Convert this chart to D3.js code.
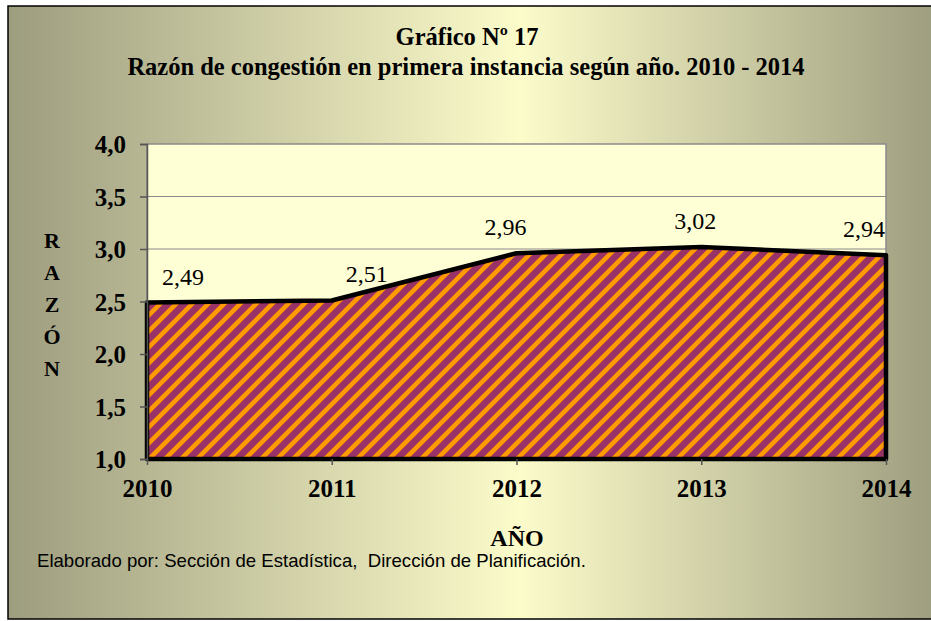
<!DOCTYPE html>
<html>
<head>
<meta charset="utf-8">
<script src="https://cdn.jsdelivr.net/npm/d3@7"></script>
<style>
  body { margin: 0; background: #fff; }
  svg { display: block; }
  .serif { font-family: "Liberation Serif", "Times New Roman", serif; }
  .sans { font-family: "Liberation Sans", Arial, sans-serif; white-space: pre; }
</style>
</head>
<body>
<div id="vis"></div>
<script>
// data
var years = ['2010', '2011', '2012', '2013', '2014'];
var ratios = [2.49, 2.51, 2.96, 3.02, 2.94];
var ratioLabels = ['2,49', '2,51', '2,96', '3,02', '2,94'];
var yTicks = [1.0, 1.5, 2.0, 2.5, 3.0, 3.5, 4.0];

var width = 931;
var height = 621;
var plot = { left: 147, right: 886, top: 144, bottom: 459 };

var svg = d3.select('#vis').append('svg')
    .attr('width', width)
    .attr('height', height);

var defs = svg.append('defs');

// background gradient, dark olive at the sides, pale yellow in the middle
var grad = defs.append('linearGradient')
    .attr('id', 'bg')
    .attr('x1', '0').attr('x2', '1').attr('y1', '0').attr('y2', '0');
grad.append('stop').attr('offset', '0%').attr('stop-color', '#9d9d7f');
grad.append('stop').attr('offset', '55%').attr('stop-color', '#fcfbca');
grad.append('stop').attr('offset', '100%').attr('stop-color', '#9d9d7f');

// diagonal hatch
var p = 16;
var hatch = defs.append('pattern')
    .attr('id', 'hatch')
    .attr('patternUnits', 'userSpaceOnUse')
    .attr('width', p).attr('height', p);
hatch.append('rect').attr('width', p).attr('height', p).attr('fill', '#993366');
hatch.append('path')
    .attr('d', 'M' + (-p / 2) + ',' + (p / 2) + ' L' + (p / 2) + ',' + (-p / 2) +
               ' M0,' + p + ' L' + p + ',0' +
               ' M' + (p / 2) + ',' + (p * 1.5) + ' L' + (p * 1.5) + ',' + (p / 2))
    .attr('stroke', '#ff9900')
    .attr('stroke-width', 4.5);

svg.append('rect')
    .attr('x', 8).attr('y', 6)
    .attr('width', width).attr('height', 613)
    .attr('fill', 'url(#bg)')
    .attr('stroke', '#000')
    .attr('stroke-width', 1.5);

var x = d3.scalePoint()
    .domain(years)
    .range([plot.left, plot.right]);

var y = d3.scaleLinear()
    .domain([1, 4])
    .range([plot.bottom, plot.top]);

// plot area
svg.append('rect')
    .attr('x', plot.left).attr('y', plot.top)
    .attr('width', plot.right - plot.left)
    .attr('height', plot.bottom - plot.top)
    .attr('fill', '#ffffd6')
    .attr('stroke', '#8a8a8a')
    .attr('stroke-width', 1.5);

// gridlines
svg.append('g')
    .selectAll('line')
    .data(yTicks.slice(1, -1))
    .enter().append('line')
    .attr('x1', plot.left).attr('x2', plot.right)
    .attr('y1', function (d) { return y(d); })
    .attr('y2', function (d) { return y(d); })
    .attr('stroke', '#8a8a8a')
    .attr('stroke-width', 1.2);

// area
var area = d3.area()
    .x(function (d, i) { return x(years[i]); })
    .y0(y(1))
    .y1(function (d) { return y(d); });

svg.append('path')
    .datum(ratios)
    .attr('d', area)
    .attr('fill', 'url(#hatch)')
    .attr('stroke', '#000')
    .attr('stroke-width', 4.5)
    .attr('stroke-linejoin', 'round');

// y axis
var yAxis = d3.axisLeft(y)
    .tickValues(yTicks)
    .tickSize(7)
    .tickFormat(function (d) { return d3.format('.1f')(d).replace('.', ','); });

var gy = svg.append('g')
    .attr('transform', 'translate(' + plot.left + ',0)')
    .call(yAxis);
gy.attr('font-family', null).attr('font-size', null);
gy.select('.domain').attr('stroke', '#555').attr('stroke-width', 1.5);
gy.selectAll('.tick line').attr('stroke', '#555').attr('stroke-width', 1.5);
gy.selectAll('.tick text')
    .attr('class', 'serif')
    .attr('x', -21)
    .attr('dy', '0.35em')
    .style('font-size', '25px')
    .style('font-weight', 'bold')
    .attr('fill', '#000');

// x axis
var xAxis = d3.axisBottom(x).tickSize(6);
var gx = svg.append('g')
    .attr('transform', 'translate(0,' + plot.bottom + ')')
    .call(xAxis);
gx.attr('font-family', null).attr('font-size', null);
gx.select('.domain').remove();
gx.selectAll('.tick line').attr('stroke', '#555').attr('stroke-width', 1.5);
gx.selectAll('.tick text')
    .attr('class', 'serif')
    .attr('y', 29)
    .attr('dy', '0.35em')
    .style('font-size', '25px')
    .style('font-weight', 'bold')
    .attr('fill', '#000');

// value labels
var labelDx = [36, 35, -11, -6, -22];
svg.append('g')
    .selectAll('text')
    .data(ratios)
    .enter().append('text')
    .attr('class', 'serif')
    .attr('x', function (d, i) { return x(years[i]) + labelDx[i]; })
    .attr('y', function (d) { return y(d) - 18; })
    .attr('text-anchor', 'middle')
    .style('font-size', '24px')
    .text(function (d, i) { return ratioLabels[i]; });

// titles
svg.append('text')
    .attr('class', 'serif')
    .attr('x', 467).attr('y', 45)
    .attr('text-anchor', 'middle')
    .style('font-size', '24.5px')
    .style('font-weight', 'bold')
    .text('Gráfico Nº 17');

svg.append('text')
    .attr('class', 'serif')
    .attr('x', 466).attr('y', 75)
    .attr('text-anchor', 'middle')
    .style('font-size', '24.5px')
    .style('font-weight', 'bold')
    .text('Razón de congestión en primera instancia según año. 2010 - 2014');

// y title, stacked letters
var yTitle = ['R', 'A', 'Z', 'Ó', 'N'];
svg.append('g')
    .selectAll('text')
    .data(yTitle)
    .enter().append('text')
    .attr('class', 'serif')
    .attr('x', 52)
    .attr('y', function (d, i) { return 248 + i * 32; })
    .attr('text-anchor', 'middle')
    .style('font-size', '22px')
    .style('font-weight', 'bold')
    .text(function (d) { return d; });

svg.append('text')
    .attr('class', 'serif')
    .attr('x', 517).attr('y', 546)
    .attr('text-anchor', 'middle')
    .style('font-size', '24px')
    .style('font-weight', 'bold')
    .text('AÑO');

svg.append('text')
    .attr('class', 'sans')
    .attr('x', 37).attr('y', 567)
    .style('font-size', '18.6px')
    .text('Elaborado por: Sección de Estadística,  Dirección de Planificación.');
</script>
</body>
</html>
